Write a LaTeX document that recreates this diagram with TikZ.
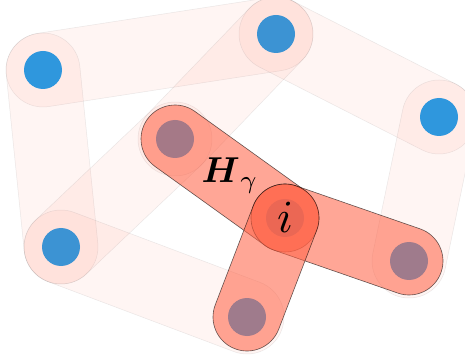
\documentclass[tikz,border=0pt]{standalone}
\usepackage{amsmath}
\usetikzlibrary{calc}
\definecolor{cblue}{HTML}{12A0F4}
\definecolor{cred}{HTML}{FF6347}
\definecolor{cgrey}{HTML}{6B6B6B}
\tikzset{
  every picture/.style={x=1pt, y=1pt},
  vertex/.style={circle, fill=cblue, minimum size=38pt, inner sep=0pt},
  faint/.style={fill=cred, fill opacity=0.065, draw=cgrey, draw opacity=0.14, line width=0.5pt},
  strong/.style={fill=cred, fill opacity=0.57, draw=black, draw opacity=0.6, line width=0.6pt},
  lbl/.style={inner sep=0pt},
}
% hyperedge as a stadium between two nodes: style, from, to, half width
\newcommand{\hedge}[4]{%
  \path[#1] let \p1=($(#3)-(#2)$), \n1={atan2(\y1,\x1)} in
    ($(#2)+(\n1+90:#4)$) -- ($(#3)+(\n1+90:#4)$)
    arc[start angle=\n1+90, delta angle=-180, radius=#4]
    -- ($(#2)+(\n1-90:#4)$)
    arc[start angle=\n1-90, delta angle=-180, radius=#4] -- cycle;}

\begin{document}
\begin{tikzpicture}
  \useasboundingbox (0,0) rectangle (465,356);
  \clip (0,0) rectangle (465,356);
  \node[vertex] (A) at (43,286) {};
  \node[vertex] (B) at (276,322) {};
  \node[vertex] (C) at (439,239) {};
  \node[vertex] (D) at (175,217) {};
  \node[vertex] (E) at (61,109) {};
  \node[vertex] (F) at (409,95) {};
  \node[vertex] (G) at (247,39) {};
  \node[vertex] (i) at (285,138) {};
  \foreach \a/\b in {A/B, A/E, E/D, D/B, B/C, C/F, E/G} \hedge{faint}{\a}{\b}{37pt};
  \foreach \b in {D, F, G} \hedge{strong}{i}{\b}{34pt};
  \node[lbl, anchor=base west, scale=3.6] (hname) at (201,173) {$\boldsymbol{H}_{\gamma}$};
  \node[lbl, anchor=base, scale=4.6] (iname) at (285,124) {$i$};
\end{tikzpicture}
\end{document}
